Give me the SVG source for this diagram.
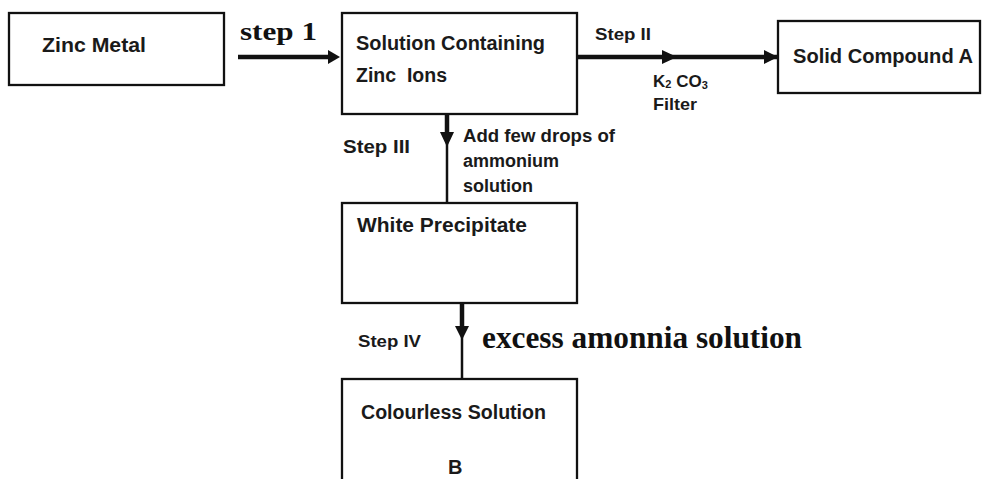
<svg xmlns="http://www.w3.org/2000/svg" width="983" height="479" viewBox="0 0 983 479">
<defs>
<style>
.box{fill:#fff;stroke:#111;stroke-width:2.3}
.lbl{font-family:"Liberation Sans",Arial,sans-serif;font-weight:bold;fill:#1a1a1a}
.t20{font-size:20px}
.t18{font-size:18px}
.t17{font-size:17px}
.serif{font-family:"Liberation Serif","Times New Roman",serif;font-weight:bold;fill:#111}
.thick{stroke:#111;stroke-width:4.5;fill:none}
.thin{stroke:#111;stroke-width:2.5;fill:none}
.head{fill:#111}
</style>
</defs>
<rect width="983" height="479" fill="#fff"/>
<g id="zinc-metal">
<rect class="box" x="9" y="13" width="215" height="72"/>
<text class="lbl t20" x="42" y="52" textLength="104" lengthAdjust="spacingAndGlyphs">Zinc Metal</text>
</g>
<g id="solution-zinc-ions">
<rect class="box" x="342" y="13" width="235" height="101"/>
<text class="lbl t20" x="356" y="50" textLength="189" lengthAdjust="spacingAndGlyphs">Solution Containing</text>
<text class="lbl t20" x="356" y="82" xml:space="preserve" textLength="91" lengthAdjust="spacingAndGlyphs">Zinc  Ions</text>
</g>
<g id="solid-compound-a">
<rect class="box" x="778" y="21" width="202" height="72"/>
<text class="lbl t20" x="793" y="63" textLength="180" lengthAdjust="spacingAndGlyphs">Solid Compound A</text>
</g>
<g id="white-precipitate">
<rect class="box" x="342" y="203" width="235" height="100"/>
<text class="lbl t20" x="357" y="232" textLength="170" lengthAdjust="spacingAndGlyphs">White Precipitate</text>
</g>
<g id="colourless-solution">
<rect class="box" x="342" y="379" width="235" height="110"/>
<text class="lbl t20" x="361" y="419" textLength="185" lengthAdjust="spacingAndGlyphs">Colourless Solution</text>
<text class="lbl t20" x="448" y="474">B</text>
</g>
<g id="connectors">
<line class="thick" x1="238" y1="57" x2="329" y2="57"/>
<polygon class="head" points="328,50 340,57 328,64"/>
<text class="serif" x="240" y="40" font-size="26" textLength="77" lengthAdjust="spacingAndGlyphs">step 1</text>

<line class="thick" x1="577" y1="57" x2="778" y2="57"/>
<polygon class="head" points="662,50 677,57 662,64"/>
<polygon class="head" points="764,50 778,57 764,64"/>
<text class="lbl t17" x="595" y="40" textLength="56" lengthAdjust="spacingAndGlyphs">Step II</text>
<text class="lbl t17" x="653" y="87">K<tspan font-size="11" dy="1">2</tspan><tspan dy="-1"> CO</tspan><tspan font-size="11" dy="2">3</tspan></text>
<text class="lbl t17" x="653" y="110" textLength="44" lengthAdjust="spacingAndGlyphs">Filter</text>

<line class="thick" x1="447" y1="114" x2="447" y2="134"/>
<line class="thin" x1="447" y1="134" x2="447" y2="203"/>
<polygon class="head" points="440,132 447,147 454,132"/>
<text class="lbl t18" x="343" y="153" textLength="67" lengthAdjust="spacingAndGlyphs">Step III</text>
<text class="lbl t18" x="463" y="142" textLength="152" lengthAdjust="spacingAndGlyphs">Add few drops of</text>
<text class="lbl t18" x="463" y="167">ammonium</text>
<text class="lbl t18" x="463" y="192">solution</text>

<line class="thick" x1="462" y1="303" x2="462" y2="326"/>
<line class="thin" x1="462" y1="326" x2="462" y2="379"/>
<polygon class="head" points="455,326 462,340 469,326"/>
<text class="lbl t17" x="358" y="347" textLength="63" lengthAdjust="spacingAndGlyphs">Step IV</text>
<text class="serif" x="482" y="348" font-size="31" textLength="320" lengthAdjust="spacingAndGlyphs">excess amonnia solution</text>
</g>
</svg>
